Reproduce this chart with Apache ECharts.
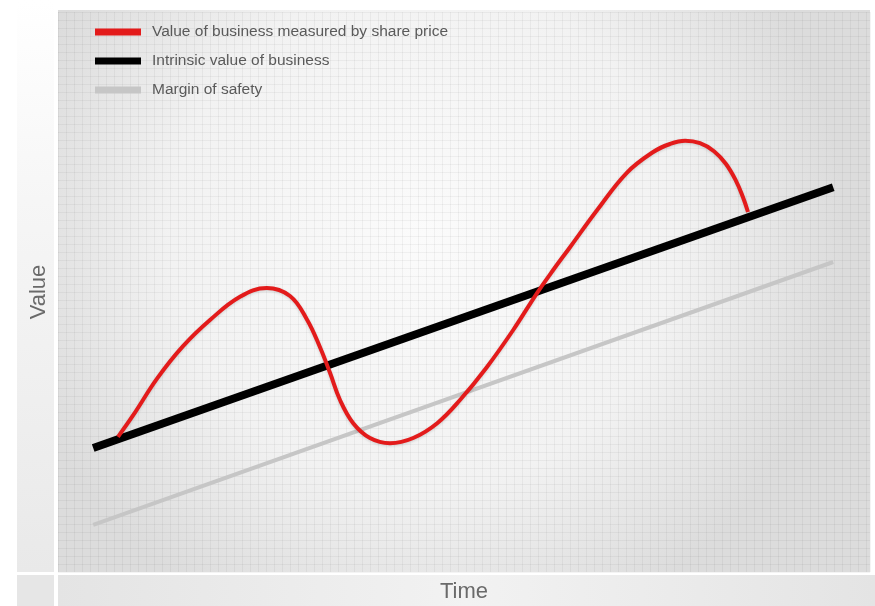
<!DOCTYPE html>
<html>
<head>
<meta charset="utf-8">
<script src="https://cdn.jsdelivr.net/npm/echarts@6/dist/echarts.min.js"></script>
<style>html,body{margin:0;padding:0;background:#fff}#c{width:875px;height:606px}</style>
</head>
<body>
<div id="c"></div>
<script>
// Time / value in chart units (1 unit = one grid square)
var seriesNames = ['Value of business measured by share price', 'Intrinsic value of business', 'Margin of safety'];
var priceTime  = [7.5, 9.4, 12.4, 15.6, 19.0, 22.75, 26.1, 29.0, 31.1, 32.75, 34.0, 35.25, 36.9, 39.0, 41.5, 44.4, 47.4, 50.25, 53.6, 56.9, 59.9, 61.9, 64.0, 67.4, 71.1, 74.4, 76.5, 78.4, 80.25, 82.0, 83.5, 84.75, 85.6, 86.25];
var priceValue = [16.9, 19.6, 24.2, 28.2, 31.5, 34.4, 35.5, 34.5, 31.6, 28.1, 24.9, 21.5, 18.6, 16.75, 16.1, 16.75, 18.6, 21.5, 25.6, 30.25, 34.9, 37.75, 40.6, 45.25, 49.9, 52.5, 53.5, 53.9, 53.6, 52.6, 51.0, 48.9, 46.9, 45.0];
var intrinsicTime  = [4.4, 96.9];
var intrinsicValue = [15.5, 48.1];
var marginTime  = [4.4, 96.9];
var marginValue = [5.9, 38.75];

function pairs(xs, ys) { return xs.map(function (x, i) { return [x, ys[i]]; }); }

var chart = echarts.init(document.getElementById('c'), null, { renderer: 'canvas' });
var font = '"Liberation Sans", Arial, sans-serif';
chart.setOption({
  backgroundColor: '#ffffff',
  animation: false,
  graphic: [
    { type: 'rect', z: -10, silent: true, shape: { x: 17, y: 0, width: 37, height: 572 },
      style: { fill: new echarts.graphic.LinearGradient(0, 0, 0, 1, [
        { offset: 0, color: '#ffffff' }, { offset: 0.35, color: '#f6f6f6' }, { offset: 1, color: '#e9e9e9' }]) } },
    { type: 'rect', z: -10, silent: true, shape: { x: 17, y: 575, width: 37, height: 31 },
      style: { fill: '#e6e6e6' } },
    { type: 'rect', z: -10, silent: true, shape: { x: 58, y: 575, width: 817, height: 31 },
      style: { fill: new echarts.graphic.LinearGradient(0, 0, 1, 0, [
        { offset: 0, color: '#e4e4e4' }, { offset: 0.5, color: '#f2f2f2' }, { offset: 1, color: '#e4e4e4' }]) } },
    { type: 'rect', z: -10, silent: true, shape: { x: 58, y: 10, width: 812, height: 562 },
      style: { fill: new echarts.graphic.RadialGradient(0.45, 0.4, 0.75, [
        { offset: 0, color: '#fbfbfb' }, { offset: 0.6, color: '#f2f2f2' }, { offset: 1, color: '#dcdcdc' }]) } }
  ],
  legend: {
    data: seriesNames,
    orient: 'vertical',
    left: 90, top: 19,
    icon: 'rect',
    itemWidth: 46, itemHeight: 7,
    itemGap: 13,
    textStyle: { fontFamily: font, fontSize: 15.5, color: '#5a5a5a', padding: [0, 0, 0, 6] },
    itemStyle: { borderWidth: 0 },
    selectedMode: false
  },
  grid: { left: 58, right: 5, top: 12, bottom: 34, outerBoundsMode: 'none', containLabel: false },
  xAxis: {
    type: 'value', min: 0, max: 101.5, interval: 1,
    name: 'Time', nameLocation: 'middle', nameGap: 9,
    nameTextStyle: { fontFamily: font, fontSize: 22, color: '#6a6a6a' },
    axisLine: { show: false }, axisTick: { show: false }, axisLabel: { show: false },
    splitLine: { show: true, lineStyle: { color: 'rgba(0,0,0,0.045)', width: 1 } }
  },
  yAxis: {
    type: 'value', min: 0, max: 70, interval: 1,
    name: 'Value', nameLocation: 'middle', nameGap: 8, nameRotate: 90,
    nameTextStyle: { fontFamily: font, fontSize: 22, color: '#6a6a6a' },
    axisLine: { show: false }, axisTick: { show: false }, axisLabel: { show: false },
    splitLine: { show: true, lineStyle: { color: 'rgba(0,0,0,0.045)', width: 1 } }
  },
  series: [
    { name: seriesNames[2], type: 'line', data: pairs(marginTime, marginValue), showSymbol: false, z: 2,
      itemStyle: { color: '#c6c6c6' }, lineStyle: { color: '#c6c6c6', width: 4 } },
    { name: seriesNames[1], type: 'line', data: pairs(intrinsicTime, intrinsicValue), showSymbol: false, z: 3,
      itemStyle: { color: '#000000' }, lineStyle: { color: '#000000', width: 8 } },
    { name: seriesNames[0], type: 'line', data: pairs(priceTime, priceValue), showSymbol: false, smooth: 0.4, z: 4,
      itemStyle: { color: '#e31b1b' },
      lineStyle: { color: '#e31b1b', width: 4, shadowColor: 'rgba(0,0,0,0.15)', shadowBlur: 3, shadowOffsetY: 1 } }
  ]
});
</script>
</body>
</html>
